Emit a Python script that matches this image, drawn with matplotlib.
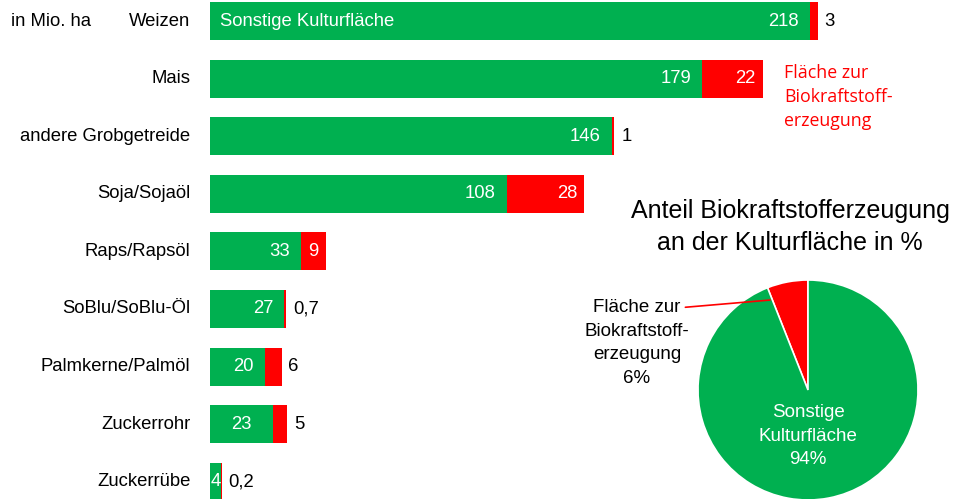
import matplotlib.pyplot as plt
import numpy as np

plt.rcParams['font.family'] = ['Liberation Sans', 'DejaVu Sans']

GREEN = '#00B050'
RED = '#FF0000'

# Werte in Mio. ha
categories = ["Weizen", "Mais", "andere Grobgetreide", "Soja/Sojaöl", "Raps/Rapsöl",
              "SoBlu/SoBlu-Öl", "Palmkerne/Palmöl", "Zuckerrohr", "Zuckerrübe"]
sonstige = [218, 179, 146, 108, 33, 27, 20, 23, 4]
biokraft = [3, 22, 1, 28, 9, 0.7, 6, 5, 0.2]
biokraft_labels = ["3", "22", "1", "28", "9", "0,7", "6", "5", "0,2"]
# red values drawn inside the bar (white) instead of outside (black)
inside_red = [False, True, False, True, True, False, False, False, False]
centered_green = [False, False, False, False, False, False, False, True, True]

pie_values = [6, 94]
pie_labels = ["Fläche zur\nBiokraftstoff-\nerzeugung\n6%", "Sonstige\nKulturfläche\n94%"]

FS = 13.3

fig = plt.figure(figsize=(9.55, 4.99), dpi=100)

# --- bar chart ---
ax = fig.add_axes([210 / 955, 0, 1 - 210 / 955, 1])
y = np.arange(len(categories))
ax.barh(y, sonstige, height=0.66, color=GREEN)
ax.barh(y, biokraft, left=sonstige, height=0.66, color=RED)
ax.set_xlim(0, 745 / 2.75)
ax.set_ylim(8.30, -0.365)
ax.axis('off')

for i, cat in enumerate(categories):
    ax.annotate(cat, (0, i), xytext=(-14, 0), textcoords='offset points',
                ha='right', va='center', fontsize=FS)
    if centered_green[i]:
        ax.text(sonstige[i] / 2, i, str(sonstige[i]), ha='center', va='center',
                color='white', fontsize=FS)
    else:
        ax.annotate(str(sonstige[i]), (sonstige[i], i), xytext=(-8, 0),
                    textcoords='offset points', ha='right', va='center',
                    color='white', fontsize=FS)
    end = sonstige[i] + biokraft[i]
    if inside_red[i]:
        ax.annotate(biokraft_labels[i], (end, i), xytext=(-5, 0),
                    textcoords='offset points', ha='right', va='center',
                    color='white', fontsize=FS)
    else:
        ax.annotate(biokraft_labels[i], (end, i), xytext=(5, 0),
                    textcoords='offset points', ha='left', va='center',
                    color='black', fontsize=FS)

ax.annotate("Sonstige Kulturfläche", (0, 0), xytext=(7, 0), textcoords='offset points',
            ha='left', va='center', color='white', fontsize=FS)
fig.text(11 / 955, 1 - 21 / 499, "in Mio. ha", ha='left', va='center', fontsize=FS)
fig.text(784 / 955, 1 - 97 / 499, "Fläche zur\nBiokraftstoff-\nerzeugung", ha='left',
         va='center', color=RED, fontsize=12.8, linespacing=1.45,
         family=['Open Sans', 'DejaVu Sans'])

# --- pie chart ---
fig.text(790 / 955, 1 - 227 / 499, "Anteil Biokraftstofferzeugung\nan der Kulturfläche in %",
         ha='center', va='center', fontsize=18, linespacing=1.4)

pax = fig.add_axes([(808 - 110) / 955, (499 - 390 - 110) / 499, 220 / 955, 220 / 499])
pax.pie(pie_values, colors=[RED, GREEN], startangle=90, counterclock=True,
        wedgeprops=dict(edgecolor='white', linewidth=1.2))
pax.set_xlim(-1, 1)
pax.set_ylim(-1, 1)
pax.set_aspect('equal')
pax.text(0, -0.42, pie_labels[1], ha='center', va='center', color='white',
         fontsize=13.5, linespacing=1.5)
fig.text(637 / 955, 1 - 343 / 499, pie_labels[0], ha='center', va='center',
         fontsize=13.5, linespacing=1.5)
pax.annotate("", xy=(-0.32, 0.82), xytext=(-1.14, 0.75),
             arrowprops=dict(arrowstyle='-', color=RED, lw=1.2), annotation_clip=False)

fig.savefig("out.png", dpi=100)
